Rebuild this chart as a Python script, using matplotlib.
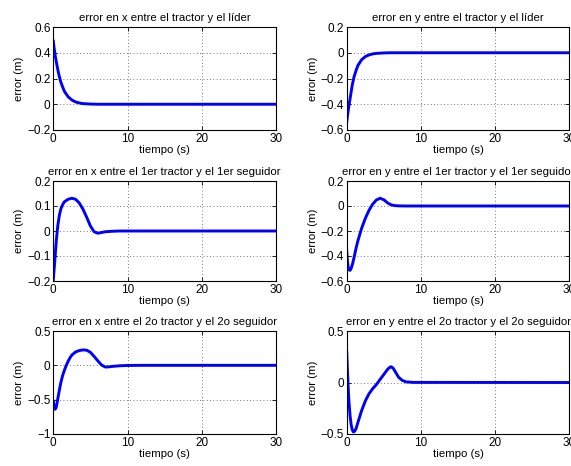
import matplotlib
matplotlib.use("Agg")
import matplotlib.pyplot as plt
import numpy as np

plt.rcParams['font.family'] = ['Liberation Sans', 'DejaVu Sans']
plt.rcParams['axes.unicode_minus'] = True

# errores de posición (m) frente al tiempo (s)
t_lider = [0, 0.1, 0.25, 0.5, 0.75, 1.0, 1.25, 1.5, 2.0, 2.5, 3.0, 3.5, 4.0, 5.0, 6.0, 30]
ex_lider = [0.49, 0.44, 0.38, 0.30, 0.23, 0.175, 0.135, 0.10, 0.058, 0.033, 0.018, 0.010, 0.005, 0.0015, 0.0, 0.0]
ey_lider = [-0.54, -0.49, -0.43, -0.34, -0.25, -0.185, -0.14, -0.10, -0.055, -0.03, -0.017, -0.009, -0.005, -0.0015, 0.0, 0.0]

t_ex1 = [0, 0.2, 0.4, 0.6, 0.8, 1.0, 1.25, 1.5, 2.0, 2.5, 3.0, 3.5, 4.0, 4.5, 5.0, 5.5, 6.0, 6.5, 7.0, 8.0, 9.0, 30]
ex_1 = [-0.195, -0.12, -0.04, 0.02, 0.06, 0.087, 0.105, 0.117, 0.127, 0.131, 0.127, 0.112, 0.087, 0.055, 0.02,
        -0.003, -0.009, -0.006, -0.003, -0.001, 0.0, 0.0]

t_ey1 = [0, 0.1, 0.2, 0.3, 0.45, 0.6, 0.8, 1.0, 1.25, 1.5, 2.0, 2.5, 3.0, 3.5, 4.0, 4.5, 5.0, 5.5, 6.0, 6.5, 7.0, 8.0, 30]
ey_1 = [-0.355, -0.44, -0.49, -0.51, -0.515, -0.50, -0.46, -0.41, -0.34, -0.28, -0.18, -0.10, -0.035, 0.015,
        0.048, 0.062, 0.05, 0.025, 0.009, 0.003, 0.001, 0.0, 0.0]

t_ex2 = [0, 0.1, 0.25, 0.4, 0.5, 0.75, 1.0, 1.25, 1.5, 1.75, 2.0, 2.25, 2.5, 3.0, 3.5, 4.0, 4.5, 5.0, 5.5, 6.0,
         6.5, 7.0, 7.5, 8.0, 9.0, 10.0, 12.0, 30]
ex_2 = [-0.52, -0.60, -0.64, -0.61, -0.55, -0.40, -0.26, -0.15, -0.07, 0.0, 0.06, 0.11, 0.15, 0.195, 0.215, 0.225,
        0.22, 0.19, 0.13, 0.065, 0.005, -0.025, -0.022, -0.015, -0.006, -0.002, 0.0, 0.0]

t_ey2 = [0, 0.1, 0.2, 0.3, 0.45, 0.6, 0.75, 0.9, 1.05, 1.25, 1.5, 2.0, 2.5, 3.0, 3.5, 4.0, 4.5, 5.0, 5.5, 5.8,
         6.0, 6.25, 6.5, 7.0, 7.5, 8.0, 9.0, 30]
ey_2 = [0.30, 0.12, -0.05, -0.18, -0.32, -0.41, -0.46, -0.48, -0.475, -0.45, -0.39, -0.275, -0.18, -0.11, -0.06,
        -0.02, 0.03, 0.078, 0.127, 0.148, 0.153, 0.14, 0.11, 0.05, 0.02, 0.006, 0.001, 0.0]

titles = [
    "error en x entre el tractor y el líder",
    "error en y entre el tractor y el líder",
    "error en x entre el 1er tractor y el 1er seguidor",
    "error en y entre el 1er tractor y el 1er seguidor",
    "error en x entre el 2o tractor y el 2o seguidor",
    "error en y entre el 2o tractor y el 2o seguidor",
]
xticks = [0, 10, 20, 30]
yticks = [
    [-0.2, 0, 0.2, 0.4, 0.6],
    [-0.6, -0.4, -0.2, 0, 0.2],
    [-0.2, -0.1, 0, 0.1, 0.2],
    [-0.6, -0.4, -0.2, 0, 0.2],
    [-1, -0.5, 0, 0.5],
    [-0.5, 0, 0.5],
]
series = [(t_lider, ex_lider), (t_lider, ey_lider), (t_ex1, ex_1),
          (t_ey1, ey_1), (t_ex2, ex_2), (t_ey2, ey_2)]

W, H = 571, 466
fig = plt.figure(figsize=(W / 100, H / 100), dpi=100)

# cajas de los ejes en píxeles (izquierda, arriba, abajo)
cols = [53.3, 346.7]
rows = [(27, 130), (181, 281), (331, 434)]
ax_w = 222.7

for i, (title, (t, e), yt) in enumerate(zip(titles, series, yticks)):
    r, c = divmod(i, 2)
    top, bot = rows[r]
    ax = fig.add_axes([cols[c] / W, 1 - bot / H, ax_w / W, (bot - top) / H])
    ax.plot(t, e, color=(0, 0, 1), lw=2.1, solid_joinstyle='round')
    ax.set_xlim(0, 30)
    ax.set_ylim(yt[0], yt[-1])
    ax.set_xticks(xticks)
    ax.set_yticks(yt)
    ax.set_yticklabels([f"{v:g}".replace("-", "\u2212") for v in yt])
    ax.grid(True, linestyle=(0, (1, 3)), color='0.3', lw=0.6)
    ax.tick_params(direction='in', length=3, width=0.6, top=True, right=True,
                   labelsize=8.5, pad=2)
    for s in ax.spines.values():
        s.set_linewidth(0.8)
    ax.set_title(title, fontsize=8.2, pad=4)
    ax.set_xlabel("tiempo (s)", fontsize=8.2, labelpad=0)
    ax.set_ylabel("error (m)", fontsize=8.2, labelpad=2)

fig.savefig("out.png", dpi=100)
